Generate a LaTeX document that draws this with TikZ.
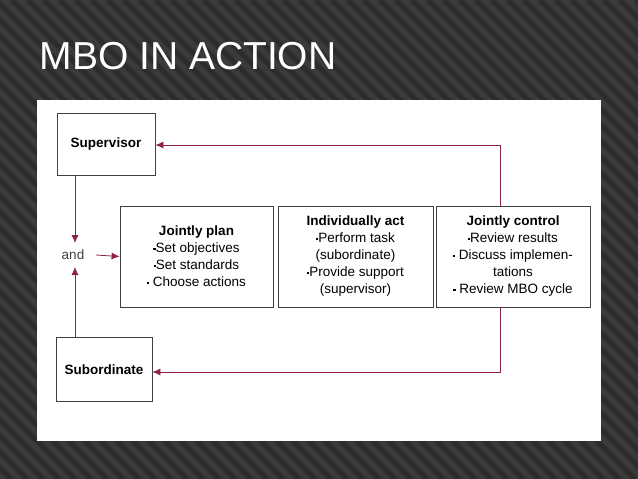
\documentclass[tikz,border=0pt]{standalone}
\usepackage{fontspec}
\setmainfont{Liberation Sans}
\usetikzlibrary{arrows.meta}
\newcommand{\bul}{\raisebox{3pt}{\rule{2.2pt}{2.2pt}}}
\begin{document}
\begin{tikzpicture}[x=1pt,y=-1pt,
  box/.style={draw=black!75,line width=0.8pt,fill=white,inner sep=0pt,font=\fontsize{13.5}{17}\selectfont,align=center},
  con/.style={draw=arr,line width=0.8pt},
  tip/.style={-{Latex[length=8pt,width=7pt]}}]
\definecolor{arr}{HTML}{8E1F4E}
\definecolor{bg}{HTML}{3A3A3A}
\useasboundingbox (0,0) rectangle (638,479);
\fill[bg] (0,0) rectangle (638,479);
\begin{scope}
\clip (0,0) rectangle (638,479);
\foreach \i in {-500,-484,...,700} \draw[black!25!bg,line width=5pt] (\i,0) -- ++(479,479);
\end{scope}
\node[anchor=west,text=white,font=\fontsize{39}{41}\selectfont] (title) at (36,56) {MBO IN ACTION};
\fill[white] (37,100) rectangle (601,441);
\node[box,minimum width=98pt,minimum height=62pt,font=\fontsize{13.5}{17}\selectfont\bfseries] (sup) at (106,144) {Supervisor};
\node[box,minimum width=96pt,minimum height=64pt,anchor=north,font=\fontsize{13.5}{17}\selectfont\bfseries] (sub) at (104,337) {Subordinate};
\node[font=\fontsize{13.5}{17}\selectfont,text=black!75] (and) at (73,255) {and};
\node[box,minimum width=153pt,minimum height=101pt] (plan) at (196.5,256.5) {\textbf{Jointly plan}\\\bul Set objectives\\\bul Set standards\\\bul\ Choose actions};
\node[box,minimum width=155pt,minimum height=101pt] (act) at (355.5,256.5) {\textbf{Individually act}\\\bul Perform task\\(subordinate)\\\bul Provide support\\(supervisor)};
\node[box,minimum width=154pt,minimum height=101pt] (ctl) at (513,256.5) {\textbf{Jointly control}\\\bul Review results\\\bul\ Discuss implemen-\\tations\\\bul\ Review MBO cycle};
\coordinate (a1) at (500,145);
\coordinate (a2) at (500,372);
\draw[con,tip] (sup.south -| 75,0) -- (75,243);
\draw[con,tip] (sub.north -| 75,0) -- (75,267);
\draw[con,tip] (96,255) -- (plan.west);
\draw[con,tip] (ctl.north -| a1) -- (a1) -- (sup.east |- a1);
\draw[con,tip] (ctl.south -| a2) -- (a2) -- (sub.east |- a2);
\end{tikzpicture}
\end{document}
